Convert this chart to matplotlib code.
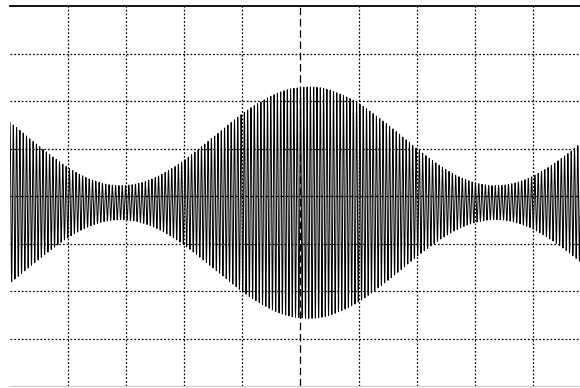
import numpy as np
import matplotlib.pyplot as plt

# screen: 10 x 8 divisions
x_divs = [-5, 5]
y_divs = [-4, 4]

# trace: amplitude-modulated carrier
carrier_amp = 1.40      # divisions
mod_depth_amp = 1.04    # divisions
carrier_freq = 17.6     # cycles per division
mod_period = 6.45       # divisions between envelope minima
env_peak = 0.13         # division of the envelope maximum
dc_offset = -0.14

t = np.linspace(x_divs[0], x_divs[1], 6000)
envelope = carrier_amp + mod_depth_amp * np.cos(2 * np.pi * (t - env_peak) / mod_period)
trace = dc_offset + envelope * np.cos(2 * np.pi * carrier_freq * t)

fig = plt.figure(figsize=(5.8, 3.88), dpi=100)
ax = fig.add_axes([10 / 580, 2 / 388, 581 / 580, 380 / 388])

for gx in range(x_divs[0] + 1, x_divs[1]):
    if gx == 0:
        ax.axvline(gx, color='black', lw=0.9, dashes=(6, 3), zorder=1)
    else:
        ax.axvline(gx, color='black', lw=0.9, dashes=(1.4, 1.6), zorder=1)
for gy in range(y_divs[0] + 1, y_divs[1]):
    if gy == 0:
        ax.axhline(gy, color='black', lw=0.9, dashes=(2.5, 1.5), zorder=1)
    else:
        ax.axhline(gy, color='black', lw=0.9, dashes=(1.4, 1.6), zorder=1)

ax.plot(t, trace, color='black', lw=0.7, zorder=3)

ax.set_xlim(x_divs)
ax.set_ylim(y_divs)
ax.set_xticks([])
ax.set_yticks([])
ax.spines['left'].set_visible(False)
ax.spines['right'].set_visible(False)
ax.spines['top'].set_linewidth(1.3)
ax.spines['bottom'].set_color('#cccccc')

fig.savefig('out.png', dpi=100)
